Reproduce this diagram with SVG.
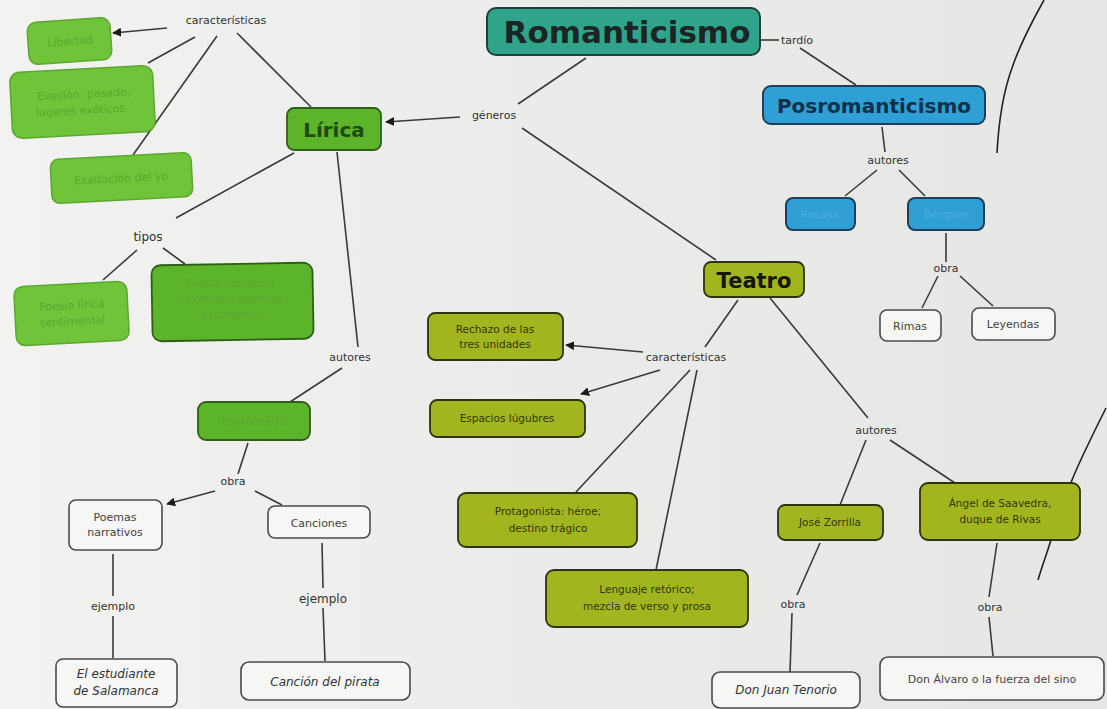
<svg xmlns="http://www.w3.org/2000/svg" width="1107" height="709" viewBox="0 0 1107 709">
<defs>
<linearGradient id="bg" x1="0" y1="0" x2="1" y2="0">
<stop offset="0" stop-color="#f2f2f1"/>
<stop offset="0.5" stop-color="#ebebea"/>
<stop offset="1" stop-color="#e6e6e5"/>
</linearGradient>
<marker id="ah" viewBox="0 0 10 10" refX="9" refY="5" markerWidth="9" markerHeight="9" markerUnits="userSpaceOnUse" orient="auto">
<path d="M0,0 L10,5 L0,10 z" fill="#1a1a1a"/>
</marker>
<style>
.ln{stroke:#3a3a3a;stroke-width:1.6;fill:none}
.arr{stroke:#3a3a3a;stroke-width:1.6;fill:none;marker-end:url(#ah)}
.pen{stroke:#222;stroke-width:1.6;fill:none}
.lbl{font-family:"DejaVu Sans",sans-serif;font-size:11px;fill:#333;text-anchor:middle}
.lbl12{font-family:"DejaVu Sans",sans-serif;font-size:12px;fill:#333;text-anchor:middle}
.teal{fill:#2fa48a;stroke:#1f3f3a;stroke-width:2}
.blue{fill:#2f9fd6;stroke:#1d3f5a;stroke-width:2}
.grn{fill:#6fc43a;stroke:#5aa82e;stroke-width:1.5}
.grnd{fill:#5cb42b;stroke:#2f5e1a;stroke-width:1.8}
.olv{fill:#a2b51f;stroke:#2e330c;stroke-width:1.8}
.wht{fill:#f6f6f4;stroke:#4a4a4a;stroke-width:1.6}
.tg{font-family:"DejaVu Sans",sans-serif;font-size:11px;fill:#58a92f;text-anchor:middle}
.tb{font-family:"DejaVu Sans",sans-serif;font-size:11px;fill:#4aaee0;text-anchor:middle}
.to{font-family:"DejaVu Sans",sans-serif;font-size:10.5px;fill:#33370b;text-anchor:middle}
.tw{font-family:"DejaVu Sans",sans-serif;font-size:11px;fill:#444;text-anchor:middle}
.twi{font-family:"DejaVu Sans",sans-serif;font-size:12px;fill:#333;text-anchor:middle;font-style:italic}
</style>
</defs>
<rect x="0" y="0" width="1107" height="709" fill="url(#bg)"/>

<g id="connectors">
<line class="ln" x1="586" y1="58" x2="518" y2="104"/>
<line class="arr" x1="460" y1="117" x2="386" y2="122"/>
<line class="ln" x1="522" y1="128" x2="716" y2="260"/>
<line class="ln" x1="760" y1="40" x2="779" y2="40"/>
<line class="ln" x1="800" y1="48" x2="856" y2="85"/>
<line class="ln" x1="882" y1="127" x2="885" y2="152"/>
<line class="ln" x1="877" y1="170" x2="845" y2="196"/>
<line class="ln" x1="899" y1="170" x2="925" y2="196"/>
<line class="ln" x1="946" y1="233" x2="946" y2="262"/>
<line class="ln" x1="938" y1="276" x2="922" y2="308"/>
<line class="ln" x1="960" y1="276" x2="993" y2="306"/>
<line class="arr" x1="167" y1="28" x2="113" y2="33"/>
<line class="ln" x1="195" y1="37" x2="148" y2="63"/>
<line class="ln" x1="217" y1="36" x2="133" y2="155"/>
<line class="ln" x1="237" y1="33" x2="311" y2="107"/>
<line class="ln" x1="294" y1="153" x2="176" y2="218"/>
<line class="ln" x1="137" y1="250" x2="103" y2="280"/>
<line class="ln" x1="163" y1="248" x2="185" y2="264"/>
<line class="ln" x1="337" y1="152" x2="358" y2="347"/>
<line class="ln" x1="342" y1="368" x2="290" y2="402"/>
<line class="ln" x1="248" y1="443" x2="238" y2="474"/>
<line class="arr" x1="215" y1="491" x2="167" y2="504"/>
<line class="ln" x1="255" y1="491" x2="282" y2="505"/>
<line class="ln" x1="113" y1="554" x2="113" y2="596"/>
<line class="ln" x1="113" y1="616" x2="113" y2="658"/>
<line class="ln" x1="322" y1="543" x2="323" y2="588"/>
<line class="ln" x1="323" y1="608" x2="325" y2="661"/>
<line class="ln" x1="738" y1="300" x2="705" y2="347"/>
<line class="arr" x1="643" y1="352" x2="566" y2="345"/>
<line class="arr" x1="660" y1="370" x2="581" y2="394"/>
<line class="ln" x1="690" y1="370" x2="576" y2="492"/>
<line class="ln" x1="697" y1="370" x2="656" y2="570"/>
<line class="ln" x1="770" y1="298" x2="868" y2="418"/>
<line class="ln" x1="866" y1="440" x2="840" y2="505"/>
<line class="ln" x1="890" y1="440" x2="955" y2="483"/>
<line class="ln" x1="820" y1="543" x2="797" y2="595"/>
<line class="ln" x1="792" y1="613" x2="790" y2="672"/>
<line class="ln" x1="997" y1="543" x2="989" y2="597"/>
<line class="ln" x1="989" y1="617" x2="993" y2="656"/>
<path class="pen" d="M1044,0 C1030,25 1018,50 1012,68 C1004,90 999,115 997,153"/>
<path class="pen" d="M1106,408 C1095,430 1080,460 1072,480 C1062,505 1058,520 1053,533 C1049,548 1043,563 1038,580"/>
</g>

<g id="labels">
<text class="lbl" x="226" y="24">características</text>
<text class="lbl" x="494" y="119">géneros</text>
<text class="lbl" x="797" y="44" font-size="10">tardío</text>
<text class="lbl" x="888" y="164">autores</text>
<text class="lbl" x="946" y="272">obra</text>
<text class="lbl12" x="148" y="241">tipos</text>
<text class="lbl" x="350" y="361">autores</text>
<text class="lbl" x="233" y="485">obra</text>
<text class="lbl" x="113" y="610">ejemplo</text>
<text class="lbl12" x="323" y="603">ejemplo</text>
<text class="lbl" x="686" y="361" font-size="10">características</text>
<text class="lbl" x="876" y="434">autores</text>
<text class="lbl" x="793" y="608">obra</text>
<text class="lbl" x="990" y="611">obra</text>
</g>

<g id="romanticismo">
<rect class="teal" x="487" y="8" width="273" height="47" rx="9"/>
<text x="627" y="43" font-family="DejaVu Sans,sans-serif" font-size="31" font-weight="bold" fill="#1a2524" text-anchor="middle">Romanticismo</text>
</g>

<g id="posromanticismo">
<rect class="blue" x="763" y="86" width="222" height="38" rx="8"/>
<text x="874" y="113" font-family="DejaVu Sans,sans-serif" font-size="20" font-weight="bold" fill="#13304a" text-anchor="middle">Posromanticismo</text>
</g>
<g id="rosalia">
<rect class="blue" x="786" y="198" width="69" height="32" rx="7"/>
<text class="tb" x="820" y="218">Rosalía</text>
</g>
<g id="becquer">
<rect class="blue" x="908" y="198" width="76" height="32" rx="7"/>
<text class="tb" x="946" y="218">Bécquer</text>
</g>
<g id="rimas">
<rect class="wht" x="880" y="310" width="61" height="31" rx="7"/>
<text class="tw" x="910" y="330" font-size="10">Rimas</text>
</g>
<g id="leyendas">
<rect class="wht" x="972" y="308" width="83" height="32" rx="7"/>
<text class="tw" x="1013" y="328" font-size="10">Leyendas</text>
</g>

<g id="lirica">
<rect class="grnd" x="287" y="108" width="94" height="42" rx="7"/>
<text x="334" y="137" font-family="DejaVu Sans,sans-serif" font-size="20" font-weight="bold" fill="#1f4a14" text-anchor="middle">Lírica</text>
</g>
<g id="car1">
<rect class="grn" x="28" y="20" width="83" height="42" rx="9" transform="rotate(-4 70 41)"/>
<text class="tg" x="70" y="45" transform="rotate(-4 70 41)">Libertad</text>
</g>
<g id="car2">
<rect class="grn" x="11" y="69" width="143" height="66" rx="10" transform="rotate(-3 82 102)"/>
<text class="tg" x="84" y="98" transform="rotate(-3 82 102)">Evasión: pasado,</text>
<text class="tg" x="80" y="114" transform="rotate(-3 82 102)">lugares exóticos</text>
</g>
<g id="car3">
<rect class="grn" x="51" y="156" width="141" height="44" rx="8" transform="rotate(-3 121 178)"/>
<text class="tg" x="121" y="182" transform="rotate(-3 121 178)">Exaltación del yo</text>
</g>
<g id="tipo1">
<rect class="grn" x="15" y="284" width="113" height="59" rx="9" transform="rotate(-3 71 313)"/>
<text class="tg" x="72" y="309" transform="rotate(-3 71 313)">Poesía lírica</text>
<text class="tg" x="72" y="325" transform="rotate(-3 71 313)">sentimental</text>
</g>
<g id="tipo2">
<rect class="grnd" x="152" y="264" width="161" height="76" rx="9" transform="rotate(-1 232 302)"/>
<text class="tg" x="232" y="287" fill="#4e9d28">Poesía narrativa:</text>
<text class="tg" x="232" y="302" fill="#4e9d28">leyendas, poemas</text>
<text class="tg" x="232" y="318" fill="#4e9d28">y romances</text>
</g>
<g id="espronceda">
<rect class="grnd" x="198" y="402" width="112" height="38" rx="8"/>
<text class="tg" x="254" y="425" fill="#4a9e26">Espronceda</text>
</g>
<g id="poemas">
<rect class="wht" x="69" y="500" width="93" height="50" rx="7"/>
<text class="tw" x="115" y="521" font-size="10">Poemas</text>
<text class="tw" x="115" y="536" font-size="10">narrativos</text>
</g>
<g id="canciones">
<rect class="wht" x="268" y="506" width="102" height="32" rx="7"/>
<text class="tw" x="319" y="527" font-size="12.5">Canciones</text>
</g>
<g id="estudiante">
<rect class="wht" x="56" y="659" width="121" height="48" rx="7"/>
<text class="twi" x="116" y="678" font-size="11">El estudiante</text>
<text class="twi" x="116" y="695" font-size="11">de Salamanca</text>
</g>
<g id="pirata">
<rect class="wht" x="241" y="662" width="169" height="38" rx="8"/>
<text class="twi" x="325" y="686">Canción del pirata</text>
</g>

<g id="teatro">
<rect class="olv" x="704" y="262" width="100" height="35" rx="7"/>
<text x="754" y="288" font-family="DejaVu Sans,sans-serif" font-size="21" font-weight="bold" fill="#141608" text-anchor="middle">Teatro</text>
</g>
<g id="rechazo">
<rect class="olv" x="428" y="313" width="135" height="47" rx="7"/>
<text class="to" x="495" y="333">Rechazo de las</text>
<text class="to" x="495" y="348">tres unidades</text>
</g>
<g id="espacios">
<rect class="olv" x="430" y="400" width="155" height="37" rx="7"/>
<text class="to" x="507" y="422">Espacios lúgubres</text>
</g>
<g id="protagonista">
<rect class="olv" x="458" y="493" width="179" height="54" rx="8"/>
<text class="to" x="548" y="515">Protagonista: héroe;</text>
<text class="to" x="548" y="532">destino trágico</text>
</g>
<g id="lenguaje">
<rect class="olv" x="546" y="570" width="202" height="57" rx="8"/>
<text class="to" x="647" y="593">Lenguaje retórico;</text>
<text class="to" x="647" y="610">mezcla de verso y prosa</text>
</g>
<g id="zorrilla">
<rect class="olv" x="778" y="505" width="105" height="35" rx="7"/>
<text class="to" x="830" y="526">José Zorrilla</text>
</g>
<g id="angel">
<rect class="olv" x="920" y="483" width="160" height="57" rx="8"/>
<text class="to" x="1000" y="507">Ángel de Saavedra,</text>
<text class="to" x="1000" y="523">duque de Rivas</text>
</g>
<g id="tenorio">
<rect class="wht" x="712" y="672" width="148" height="36" rx="8"/>
<text class="twi" x="786" y="694" font-size="11">Don Juan Tenorio</text>
</g>
<g id="alvaro">
<rect class="wht" x="880" y="657" width="224" height="43" rx="8"/>
<text class="tw" x="992" y="683" font-size="11.5">Don Álvaro o la fuerza del sino</text>
</g>
</svg>
